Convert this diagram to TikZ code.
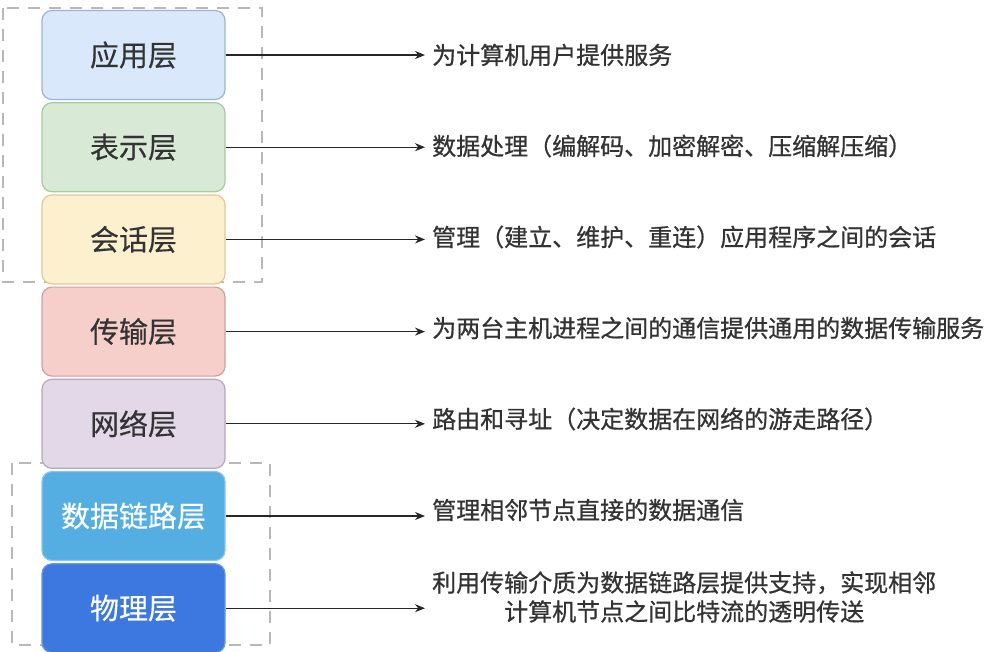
\documentclass[tikz,border=0pt]{standalone}
\usepackage{fontspec}
\setmainfont{Noto Sans CJK SC}
\newfontfamily\descfont[FakeBold=0.7]{Noto Sans CJK SC}
\newfontfamily\layerfont[FakeBold=0.3]{Noto Sans CJK SC}
\usetikzlibrary{positioning,arrows.meta}
\definecolor{appfill}{HTML}{DAE8FC}\definecolor{appline}{HTML}{9DB3D6}
\definecolor{prefill}{HTML}{D8EAD5}\definecolor{preline}{HTML}{A9C9A0}
\definecolor{sesfill}{HTML}{FDF0CF}\definecolor{sesline}{HTML}{DCCB98}
\definecolor{trafill}{HTML}{F6CFCB}\definecolor{traline}{HTML}{CFA19C}
\definecolor{netfill}{HTML}{E2D8E8}\definecolor{netline}{HTML}{B6A6C0}
\definecolor{lnkfill}{HTML}{55AEE2}\definecolor{lnkline}{HTML}{8CC6E8}
\definecolor{phyfill}{HTML}{3C78E0}\definecolor{phyline}{HTML}{6E98E0}
\definecolor{txt}{HTML}{333333}
\definecolor{dashgray}{HTML}{B8B8B8}
\tikzset{
  layerbox/.style={draw, rounded corners=10pt, line width=1.2pt,
    minimum width=183pt, minimum height=89pt, inner sep=0pt,
    font=\layerfont\fontsize{29}{34}\selectfont, text=txt},
  layerdesc/.style={anchor=west, inner sep=7pt, text=txt,
    font=\descfont\fontsize{24}{29}\selectfont},
  layerarrow/.style={-{Stealth[length=10pt,width=8pt]}, line width=1.2pt, black!85},
  groupframe/.style={draw=dashgray, line width=2pt, dash pattern=on 12pt off 9pt}
}
\begin{document}
\begin{tikzpicture}[x=1pt,y=1pt, node distance=2pt]
  \fill [white] (0,0) rectangle (1000,-651);
  \useasboundingbox (0,0) rectangle (1000,-651);
  % dashed frames
  \draw [groupframe] (3,-8) rectangle (262,-282);
  \draw [groupframe] (12,-463) rectangle (270,-645);
  % layers
  \node [layerbox, fill=appfill, draw=appline] (app) at (133.5,-55) {应用层};
  \node [layerbox, fill=prefill, draw=preline, below=of app] (pre) {表示层};
  \node [layerbox, fill=sesfill, draw=sesline, below=of pre] (ses) {会话层};
  \node [layerbox, fill=trafill, draw=traline, below=of ses] (tra) {传输层};
  \node [layerbox, fill=netfill, draw=netline, below=of tra] (net) {网络层};
  \node [layerbox, fill=lnkfill, draw=lnkline, text=white, below=of net] (lnk) {数据链路层};
  \node [layerbox, fill=phyfill, draw=phyline, text=white, below=of lnk] (phy) {物理层};
  % descriptions
  \node [layerdesc] (appd) at (425,-55) {为计算机用户提供服务};
  \node [layerdesc] (pred) at (425,-146) {数据处理（编解码、加密解密、压缩解压缩）};
  \node [layerdesc] (sesd) at (425,-237) {管理（建立、维护、重连）应用程序之间的会话};
  \node [layerdesc] (trad) at (425,-328) {为两台主机进程之间的通信提供通用的数据传输服务};
  \node [layerdesc] (netd) at (425,-419) {路由和寻址（决定数据在网络的游走路径）};
  \node [layerdesc] (lnkd) at (425,-510) {管理相邻节点直接的数据通信};
  \node [layerdesc, align=center] (phyd) at (425,-597)
    {利用传输介质为数据链路层提供支持，实现相邻\\计算机节点之间比特流的透明传送};
  % arrows
  \foreach \l in {app,pre,ses,tra,net,lnk}
    \draw [layerarrow] (\l.east) -- (\l.east -| \l d.west);
  \draw [layerarrow] (phy.east) -- (phy.east -| phyd.west);
\end{tikzpicture}
\end{document}
